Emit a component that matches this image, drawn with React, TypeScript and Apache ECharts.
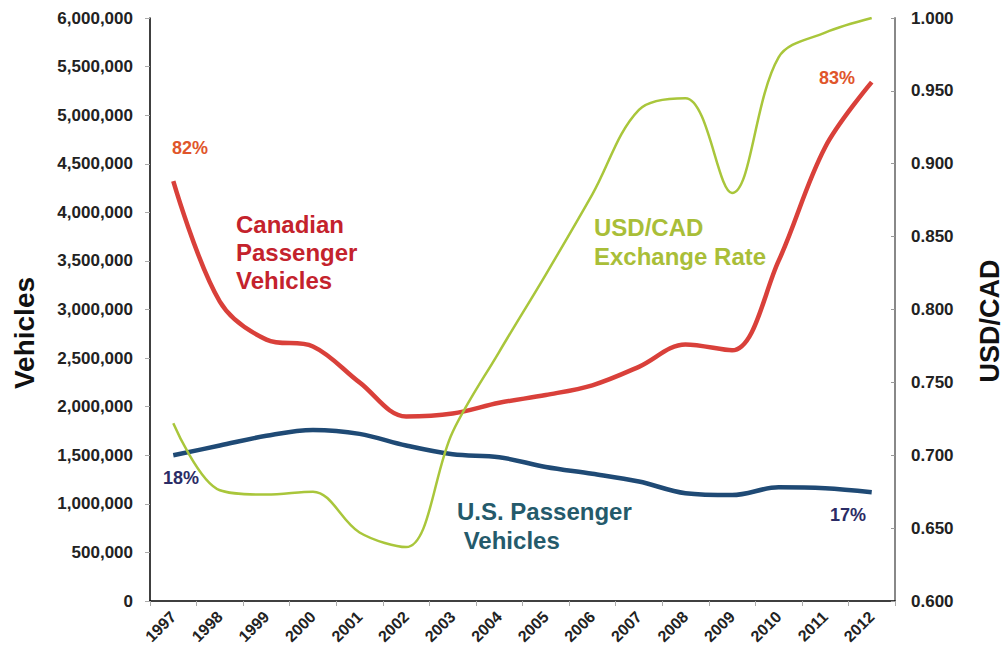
import React, { useEffect, useRef } from "react";
import * as echarts from "echarts";

const years = ["1997", "1998", "1999", "2000", "2001", "2002", "2003", "2004", "2005", "2006", "2007", "2008", "2009", "2010", "2011", "2012"];
const canadianVehicles = [4320000, 3080000, 2690000, 2620000, 2250000, 1900000, 1930000, 2040000, 2120000, 2220000, 2410000, 2640000, 2580000, 3500000, 4670000, 5340000];
const usVehicles = [1500000, 1600000, 1700000, 1760000, 1720000, 1600000, 1510000, 1480000, 1380000, 1310000, 1230000, 1110000, 1090000, 1170000, 1160000, 1120000];
const usdCad = [0.722, 0.676, 0.673, 0.675, 0.647, 0.637, 0.716, 0.771, 0.824, 0.879, 0.937, 0.945, 0.88, 0.973, 0.99, 1.0];

const FONT = "'Liberation Sans', Arial, sans-serif";

export default function App() {
  const ref = useRef<HTMLDivElement>(null);
  useEffect(() => {
    if (!ref.current) return;
    const chart = echarts.init(ref.current, null, { renderer: "svg" });
    const bold = { fontFamily: FONT, fontWeight: "bold" as const };
    chart.setOption({
      animation: false,
      backgroundColor: "#ffffff",
      grid: { left: 150, right: 113, top: 18, bottom: 52, containLabel: false },
      xAxis: {
        type: "category",
        data: years,
        boundaryGap: true,
        axisLine: { lineStyle: { color: "#000", width: 1.5 } },
        axisTick: { show: true, length: 5, lineStyle: { color: "#aaa" } },
        axisLabel: { rotate: 45, color: "#222", fontSize: 16, margin: 13, ...bold },
      },
      yAxis: [
        {
          type: "value",
          min: 0,
          max: 6000000,
          interval: 500000,
          position: "left",
          axisLine: { show: true, lineStyle: { color: "#000", width: 1.5 } },
          axisTick: { show: true, length: 5, lineStyle: { color: "#aaa" } },
          splitLine: { show: false },
          axisLabel: {
            color: "#222",
            fontSize: 17,
            margin: 17,
            ...bold,
            formatter: (v: number) => v.toLocaleString("en-US"),
          },
        },
        {
          type: "value",
          min: 0.6,
          max: 1.0,
          interval: 0.05,
          position: "right",
          axisLine: { show: true, lineStyle: { color: "#888", width: 2 } },
          axisTick: { show: true, length: 4, inside: true, lineStyle: { color: "#999" } },
          splitLine: { show: false },
          axisLabel: {
            color: "#222",
            fontSize: 17,
            margin: 16,
            ...bold,
            formatter: (v: number) => v.toFixed(3),
          },
        },
      ],
      series: [
        {
          name: "Canadian Passenger Vehicles",
          type: "line",
          yAxisIndex: 0,
          data: canadianVehicles,
          smooth: 0.35,
          showSymbol: false,
          lineStyle: { color: "#D9403A", width: 4.5 },
          z: 3,
        },
        {
          name: "U.S. Passenger Vehicles",
          type: "line",
          yAxisIndex: 0,
          data: usVehicles,
          smooth: 0.35,
          showSymbol: false,
          lineStyle: { color: "#1F4A75", width: 4.5 },
          z: 2,
        },
        {
          name: "USD/CAD Exchange Rate",
          type: "line",
          yAxisIndex: 1,
          data: usdCad,
          smooth: 0.35,
          showSymbol: false,
          lineStyle: { color: "#A9C63B", width: 2.5 },
          z: 4,
        },
      ],
      graphic: [
        {
          type: "text",
          x: 24,
          y: 333,
          rotation: Math.PI / 2,
          style: { text: "Vehicles", fill: "#111", fontSize: 28, align: "center", verticalAlign: "middle", ...bold },
        },
        {
          type: "text",
          x: 990,
          y: 321,
          rotation: Math.PI / 2,
          style: { text: "USD/CAD", fill: "#111", fontSize: 27, align: "center", verticalAlign: "middle", ...bold },
        },
        { type: "text", left: 172, top: 139, style: { text: "82%", fill: "#E0552B", fontSize: 18, ...bold } },
        { type: "text", left: 819, top: 69, style: { text: "83%", fill: "#E0552B", fontSize: 18, ...bold } },
        { type: "text", left: 163, top: 469, style: { text: "18%", fill: "#2B2C66", fontSize: 18, ...bold } },
        { type: "text", left: 830, top: 506, style: { text: "17%", fill: "#2B2C66", fontSize: 18, ...bold } },
        {
          type: "text",
          left: 236,
          top: 210,
          style: { text: "Canadian\nPassenger\nVehicles", fill: "#C4222C", fontSize: 24, lineHeight: 28, ...bold },
        },
        {
          type: "text",
          left: 594,
          top: 213,
          style: { text: "USD/CAD\nExchange Rate", fill: "#A9BE38", fontSize: 24, lineHeight: 29, ...bold },
        },
        {
          type: "text",
          left: 457,
          top: 497,
          style: { text: "U.S. Passenger\n Vehicles", fill: "#245A6B", fontSize: 24, lineHeight: 29, ...bold },
        },
      ],
    });
    return () => chart.dispose();
  }, []);
  return <div ref={ref} style={{ position: "fixed", left: 0, top: 0, width: 1008, height: 653 }} />;
}
